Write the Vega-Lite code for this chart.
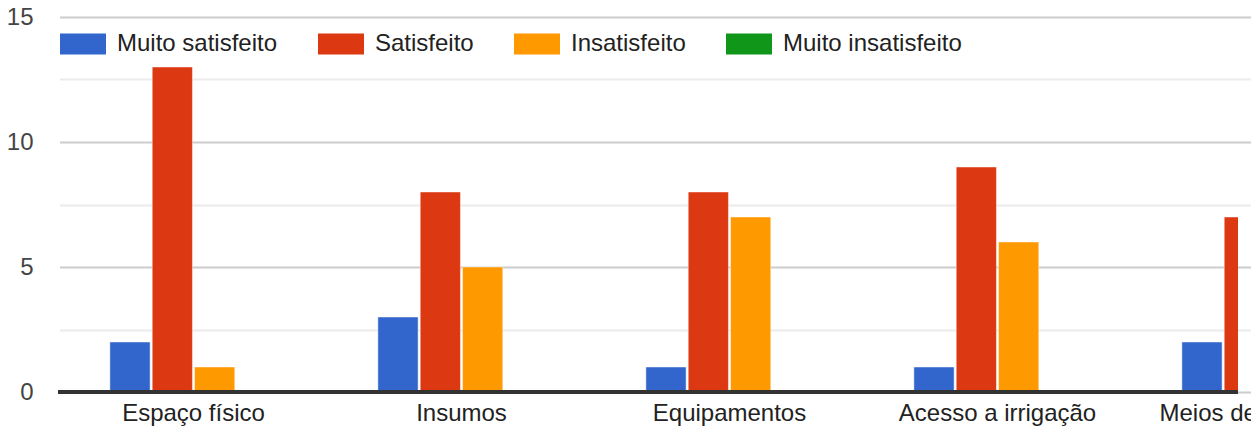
{
  "$schema": "https://vega.github.io/schema/vega-lite/v6.json",
  "autosize": "none",
  "padding": {"left": 58, "top": 17, "right": 13, "bottom": 36},
  "width": 1180,
  "height": 375,
  "background": "white",
  "config": {
    "view": {"stroke": null},
    "font": "Liberation Sans"
  },
  "data": {
    "values": [
      {"aspecto": "Espaço físico", "resposta": "Muito satisfeito", "n": 2},
      {"aspecto": "Espaço físico", "resposta": "Satisfeito", "n": 13},
      {"aspecto": "Espaço físico", "resposta": "Insatisfeito", "n": 1},
      {"aspecto": "Espaço físico", "resposta": "Muito insatisfeito", "n": 0},
      {"aspecto": "Insumos", "resposta": "Muito satisfeito", "n": 3},
      {"aspecto": "Insumos", "resposta": "Satisfeito", "n": 8},
      {"aspecto": "Insumos", "resposta": "Insatisfeito", "n": 5},
      {"aspecto": "Insumos", "resposta": "Muito insatisfeito", "n": 0},
      {"aspecto": "Equipamentos", "resposta": "Muito satisfeito", "n": 1},
      {"aspecto": "Equipamentos", "resposta": "Satisfeito", "n": 8},
      {"aspecto": "Equipamentos", "resposta": "Insatisfeito", "n": 7},
      {"aspecto": "Equipamentos", "resposta": "Muito insatisfeito", "n": 0},
      {"aspecto": "Acesso a irrigação", "resposta": "Muito satisfeito", "n": 1},
      {"aspecto": "Acesso a irrigação", "resposta": "Satisfeito", "n": 9},
      {"aspecto": "Acesso a irrigação", "resposta": "Insatisfeito", "n": 6},
      {"aspecto": "Acesso a irrigação", "resposta": "Muito insatisfeito", "n": 0},
      {"aspecto": "Meios de transporte", "resposta": "Muito satisfeito", "n": 2},
      {"aspecto": "Meios de transporte", "resposta": "Satisfeito", "n": 7},
      {"aspecto": "Meios de transporte", "resposta": "Insatisfeito", "n": 6},
      {"aspecto": "Meios de transporte", "resposta": "Muito insatisfeito", "n": 0}
    ]
  },
  "layer": [
    {
      "mark": {"type": "bar", "clip": true, "stroke": "#ffffff", "strokeWidth": 1, "strokeOpacity": 0.45},
      "encoding": {
        "x": {
          "field": "aspecto",
          "type": "nominal",
          "sort": ["Espaço físico", "Insumos", "Equipamentos", "Acesso a irrigação", "Meios de transporte"],
          "scale": {"range": [1.5, 1341.5], "paddingInner": 0.06, "paddingOuter": 0.03},
          "axis": {
            "title": null,
            "domain": false,
            "ticks": false,
            "grid": false,
            "labelAngle": 0,
            "labelPadding": 9,
            "labelFontSize": 24,
            "labelLimit": 0,
            "labelColor": "#222222",
            "labelFont": "Liberation Sans"
          }
        },
        "xOffset": {
          "field": "resposta",
          "type": "nominal",
          "sort": ["Muito satisfeito", "Satisfeito", "Insatisfeito", "Muito insatisfeito"],
          "scale": {"paddingInner": 0.05, "paddingOuter": 1}
        },
        "y": {
          "field": "n",
          "type": "quantitative",
          "scale": {"domain": [0, 15], "nice": false},
          "axis": {
            "title": null,
            "values": [0, 2.5, 5, 7.5, 10, 12.5, 15],
            "labelExpr": "datum.value % 5 === 0 ? datum.label : ''",
            "domain": false,
            "ticks": false,
            "labelPadding": 25,
            "labelFontSize": 24,
            "labelColor": "#444444",
            "labelFont": "Liberation Sans",
            "gridColor": {"condition": {"test": "datum.value % 5 === 0", "value": "#cccccc"}, "value": "#ebebeb"},
            "gridWidth": 2
          }
        },
        "color": {
          "field": "resposta",
          "type": "nominal",
          "scale": {
            "domain": ["Muito satisfeito", "Satisfeito", "Insatisfeito", "Muito insatisfeito"],
            "range": ["#3366cc", "#dc3912", "#ff9900", "#109618"]
          },
          "legend": {
            "title": null,
            "orient": "none",
            "direction": "horizontal",
            "legendX": 2,
            "legendY": 4,
            "columnPadding": 40,
            "labelOffset": 11,
            "labelFontSize": 24,
            "labelLimit": 0,
            "labelColor": "#222222",
            "labelFont": "Liberation Sans",
            "symbolType": "M-1,-0.46L1,-0.46L1,0.46L-1,0.46Z",
            "symbolSize": 2116,
            "symbolStrokeWidth": 0,
            "symbolOpacity": 1
          }
        }
      }
    },
    {
      "mark": {"type": "rule", "color": "#333333", "strokeWidth": 3},
      "encoding": {"y": {"datum": 0}}
    }
  ]
}
